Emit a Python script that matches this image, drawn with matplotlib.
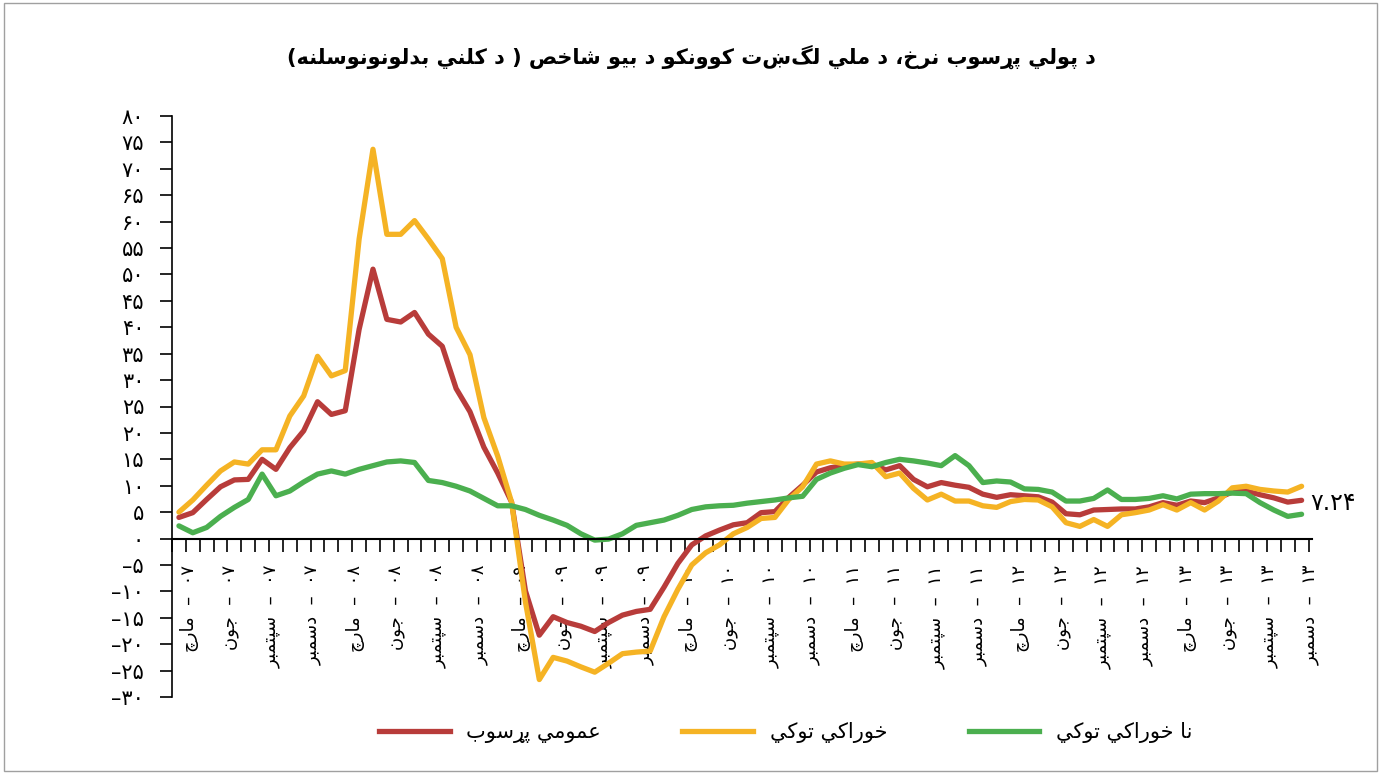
import matplotlib
matplotlib.use('Agg')
import matplotlib.pyplot as plt
from matplotlib.lines import Line2D
from matplotlib.patches import Rectangle
import numpy as np

# monthly series, March 2007 .. December 2013 (percent, y/y)
overall = [4.0, 4.9, 7.4, 9.8, 11.1, 11.2, 15.0, 13.1, 17.2, 20.4, 25.9, 23.5, 24.2, 39.6,
           51.0, 41.5, 41.0, 42.8, 38.7, 36.4, 28.4, 24.0, 17.3, 12.4, 6.9, -9.9, -18.3, -14.8,
           -15.9, -16.6, -17.6, -15.9, -14.5, -13.8, -13.4, -9.2, -4.7, -1.2, 0.5, 1.6, 2.6, 3.0,
           4.9, 5.1, 7.8, 10.1, 12.6, 13.4, 13.8, 14.1, 14.1, 13.0, 13.8, 11.2, 9.8, 10.6, 10.1,
           9.7, 8.4, 7.8, 8.3, 8.1, 7.9, 6.9, 4.7, 4.5, 5.4, 5.5, 5.6, 5.6, 6.0, 6.8, 6.3, 7.1,
           6.8, 7.7, 8.8, 9.0, 8.3, 7.7, 6.9, 7.24]
food = [5.0, 7.3, 10.1, 12.8, 14.5, 14.1, 16.8, 16.8, 23.2, 27.0, 34.5, 30.8, 31.8, 56.7,
        73.7, 57.6, 57.6, 60.2, 56.7, 53.0, 40.0, 34.8, 22.9, 15.6, 6.9, -12.0, -26.7, -22.5,
        -23.2, -24.3, -25.3, -23.6, -21.8, -21.5, -21.3, -14.8, -9.6, -5.0, -2.7, -1.2, 0.9, 2.1,
        3.8, 4.0, 7.4, 9.8, 14.1, 14.7, 14.1, 14.1, 14.4, 11.7, 12.4, 9.5, 7.3, 8.4, 7.1,
        7.1, 6.2, 5.9, 7.0, 7.4, 7.3, 6.0, 3.0, 2.3, 3.6, 2.3, 4.5, 4.9, 5.4, 6.4, 5.4, 6.8,
        5.4, 7.1, 9.6, 9.9, 9.3, 9.0, 8.8, 9.9]
nonfood = [2.4, 1.1, 2.1, 4.2, 5.9, 7.4, 12.2, 8.1, 9.0, 10.7, 12.2, 12.8, 12.2, 13.1,
           13.8, 14.5, 14.7, 14.4, 11.0, 10.6, 9.9, 9.0, 7.6, 6.2, 6.2, 5.5, 4.4, 3.5,
           2.5, 0.9, -0.3, -0.1, 0.9, 2.5, 3.0, 3.5, 4.4, 5.5, 6.0, 6.2, 6.3, 6.7,
           7.0, 7.3, 7.7, 8.0, 11.2, 12.4, 13.3, 14.0, 13.6, 14.4, 15.0, 14.7, 14.3, 13.8, 15.7,
           13.8, 10.6, 10.9, 10.7, 9.4, 9.3, 8.8, 7.1, 7.1, 7.6, 9.2, 7.4, 7.4, 7.6, 8.1, 7.5, 8.4,
           8.5, 8.5, 8.6, 8.5, 6.8, 5.4, 4.2, 4.6]

month_names = ['مارچ', 'جون', 'سپتمبر', 'دسمبر']
years = ['07', '08', '09', '10', '11', '12', '13']
y_ticks = list(range(-30, 85, 5))
title = 'د پولي پړسوب نرخ، د ملي لگښت کوونکو د بيو شاخص ( د کلني بدلونونوسلنه)'
series_names = ['عمومي پړسوب', 'خوراکي توکي', 'نا خوراکي توکي']
last_label = '7.24'

colors = ['#B83C3A', '#F5B324', '#4BAF4F']

# presentation forms: isolated, final, initial, medial (None = letter does not join forward)
FORMS = {
    'ا': ('\uFE8D', '\uFE8E', None, None),
    'ب': ('\uFE8F', '\uFE90', '\uFE91', '\uFE92'),
    'پ': ('\uFB56', '\uFB57', '\uFB58', '\uFB59'),
    'ت': ('\uFE95', '\uFE96', '\uFE97', '\uFE98'),
    'ج': ('\uFE9D', '\uFE9E', '\uFE9F', '\uFEA0'),
    'چ': ('\uFB7A', '\uFB7B', '\uFB7C', '\uFB7D'),
    'خ': ('\uFEA5', '\uFEA6', '\uFEA7', '\uFEA8'),
    'د': ('\uFEA9', '\uFEAA', None, None),
    'ر': ('\uFEAD', '\uFEAE', None, None),
    'ړ': ('\u0693', '\u0693', None, None),
    'س': ('\uFEB1', '\uFEB2', '\uFEB3', '\uFEB4'),
    'ش': ('\uFEB5', '\uFEB6', '\uFEB7', '\uFEB8'),
    'ص': ('\uFEB9', '\uFEBA', '\uFEBB', '\uFEBC'),
    'ع': ('\uFEC9', '\uFECA', '\uFECB', '\uFECC'),
    'ک': ('\uFB8E', '\uFB8F', '\uFB90', '\uFB91'),
    'گ': ('\uFB92', '\uFB93', '\uFB94', '\uFB95'),
    'ل': ('\uFEDD', '\uFEDE', '\uFEDF', '\uFEE0'),
    'م': ('\uFEE1', '\uFEE2', '\uFEE3', '\uFEE4'),
    'ن': ('\uFEE5', '\uFEE6', '\uFEE7', '\uFEE8'),
    'ه': ('\uFEE9', '\uFEEA', '\uFEEB', '\uFEEC'),
    'و': ('\uFEED', '\uFEEE', None, None),
    'ي': ('\uFEF1', '\uFEF2', '\uFEF3', '\uFEF4'),
}
MIRROR = {'(': ')', ')': '('}


def rtl(text):
    """crude arabic shaping + reversal so matplotlib draws it in visual order"""
    out = []
    for k, ch in enumerate(text):
        if ch not in FORMS:
            out.append(MIRROR.get(ch, ch))
            continue
        prev = text[k - 1] if k > 0 else ''
        nxt = text[k + 1] if k + 1 < len(text) else ''
        join_prev = prev in FORMS and FORMS[prev][2] is not None
        join_next = FORMS[ch][2] is not None and nxt in FORMS
        iso, fin, ini, med = FORMS[ch]
        if join_prev and join_next:
            out.append(med)
        elif join_prev:
            out.append(fin)
        elif join_next:
            out.append(ini)
        else:
            out.append(iso)
    return ''.join(out[::-1])


FA = str.maketrans('0123456789-', '۰۱۲۳۴۵۶۷۸۹–')


def fa(s):
    return str(s).translate(FA)


plt.rcParams['font.family'] = ['DejaVu Sans']

fig = plt.figure(figsize=(13.81, 7.74), dpi=100)
ax = fig.add_axes([172 / 1381, 77 / 774, 1140 / 1381, 581 / 774])

x = np.arange(len(overall))
for vals, c in zip([overall, food, nonfood], colors):
    ax.plot(x, vals, color=c, lw=3.8, solid_joinstyle='round', solid_capstyle='round')

ax.set_xlim(-0.5, len(overall) - 0.5)
ax.set_ylim(-30, 80)

ax.spines['top'].set_visible(False)
ax.spines['right'].set_visible(False)
ax.spines['bottom'].set_position(('data', 0))
ax.spines['bottom'].set_linewidth(1.5)
ax.spines['left'].set_linewidth(1.2)

ax.set_yticks(y_ticks, [fa(v) for v in y_ticks])
ax.tick_params(axis='y', length=9, width=1.2, direction='out', pad=11, labelsize=15)

xlabels = [rtl(m) + '  –  ' + fa(y) for y in years for m in month_names]
ax.set_xticks(np.arange(0, len(overall), 3) + 0.75, xlabels, rotation=90)
ax.set_xticks(np.arange(-0.5, len(overall), 1), minor=True)
ax.tick_params(axis='x', which='major', length=0, pad=19, labelsize=13)
ax.tick_params(axis='x', which='minor', length=9, width=1.2, direction='out')

ax.annotate(fa(last_label), xy=(x[-1], overall[-1]), xytext=(6, -2),
            textcoords='offset points', va='center', ha='left', fontsize=17)

fig.text(0.501, 0.926, rtl(title), ha='center', va='center', fontsize=15, fontweight='bold')

handles = [Line2D([], [], color=c, lw=3.8) for c in colors]
fig.legend(handles, [rtl(s) for s in series_names], loc='center', bbox_to_anchor=(0.569, 0.053),
           ncol=3, frameon=False, handlelength=3.4, handletextpad=0.8, columnspacing=3.9,
           fontsize=15)

fig.add_artist(Rectangle((0.003, 0.004), 0.994, 0.992, transform=fig.transFigure,
                         fill=False, edgecolor='#A0A0A0', lw=1))

fig.savefig('out.png', dpi=100)
